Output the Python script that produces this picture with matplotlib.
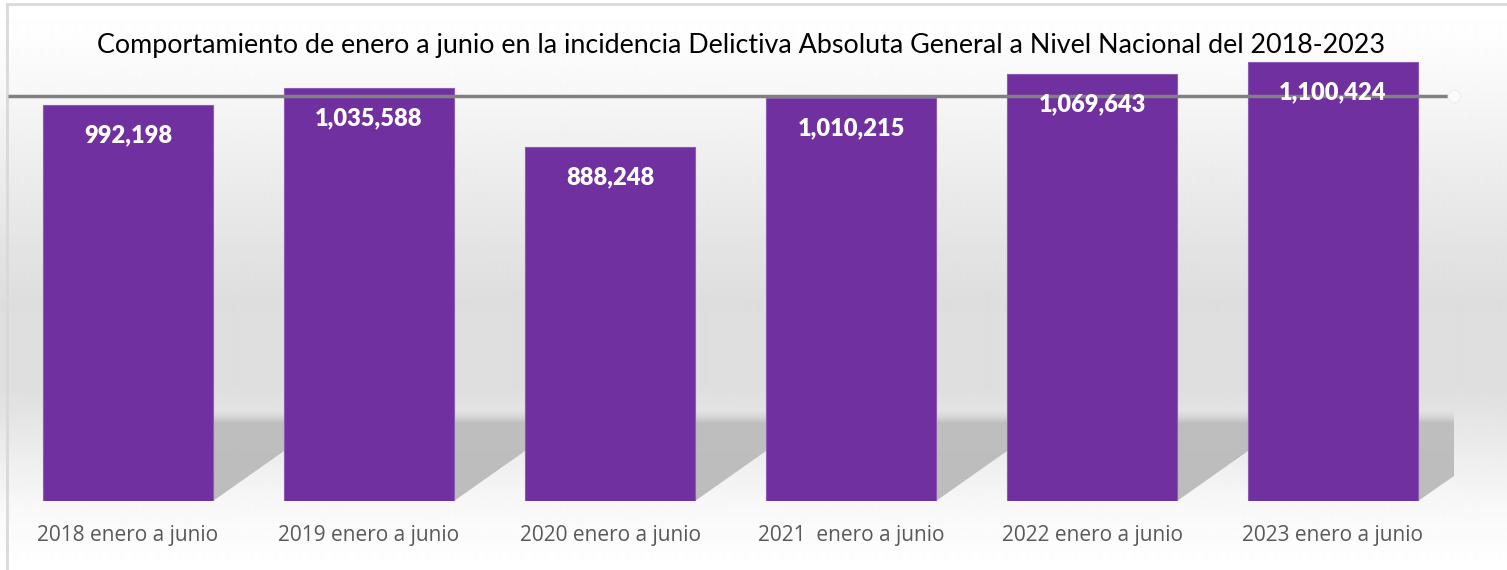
import numpy as np
import matplotlib.pyplot as plt
from matplotlib.patches import Polygon

categorias = ["2018 enero a junio", "2019 enero a junio", "2020 enero a junio",
              "2021  enero a junio", "2022 enero a junio", "2023 enero a junio"]
valores = [992198, 1035588, 888248, 1010215, 1069643, 1100424]
titulo = ("Comportamiento de enero a junio en la incidencia Delictiva Absoluta "
          "General a Nivel Nacional del 2018-2023")

morado = "#7030A0"
W, H = 1507, 570

fig = plt.figure(figsize=(W / 100, H / 100), dpi=100)

# fondo degradado
bg = fig.add_axes([0, 0, 1, 1], zorder=-5)
rows = np.arange(H)
gris = np.interp(rows, [0, 40, 100, 200, 300, 390, 450, 500, 530, 570],
                 [255, 253, 246, 233, 222, 223, 236, 247, 251, 255])
img = np.repeat((gris / 255)[:, None], 4, axis=1)
bg.imshow(img, cmap="gray", vmin=0, vmax=1, aspect="auto",
          extent=[0, W, H, 0], interpolation="bilinear")
bg.set_xlim(0, W)
bg.set_ylim(H, 0)
bg.axis("off")
bg.plot([7, 7], [4, H], color="#d9d9d9", lw=2)
bg.plot([7, W], [4, 4], color="#d9d9d9", lw=2)

ax = fig.add_axes([7.5 / W, 69 / H, 1446 / W, 0.805])
ax.patch.set_alpha(0)
x = np.arange(len(valores))
ancho = 0.705
ymax = 0.805 * H / 3.99e-4

# sombras del piso
hueco = 1 - ancho
sombra = np.interp(np.linspace(0, 1, 80), [0, 0.86, 0.93, 1.0], [188, 190, 214, 228]) / 255
sombra_img = np.repeat(sombra[:, None], 2, axis=1)
for xi in x:
    xr = xi + ancho / 2
    xd = min(xr + hueco, len(valores) - 0.5)
    alto = 228000
    poly = Polygon([(xr, 0), (xr, alto), (xd, alto), (xd, 125000 * (xd - xr) / hueco)],
                   closed=True, transform=ax.transData, facecolor="none", edgecolor="none")
    ax.add_patch(poly)
    im = ax.imshow(sombra_img, cmap="gray", vmin=0, vmax=1, aspect="auto",
                   extent=[xr, xd, 0, alto], origin="lower", zorder=1,
                   interpolation="bilinear")
    im.set_clip_path(poly)
ax.set_xlim(-0.5, len(valores) - 0.5)
ax.set_ylim(0, ymax)

barras = ax.bar(x, valores, width=ancho, color=morado, edgecolor="#8a5cb8",
                linewidth=0.8, zorder=2)

promedio = np.mean(valores)
ax.plot([-0.5, len(valores) - 0.5], [promedio, promedio], color="#808080",
        lw=2.5, zorder=3, solid_capstyle="butt")
ax.plot([len(valores) - 0.5], [promedio], marker="o", ms=9, color="#fbfbfb",
        mec="#f0f0f0", zorder=3, clip_on=False)

for xi, v in zip(x, valores):
    ax.annotate(f"{v:,}", (xi, v), xytext=(0, -22), textcoords="offset points",
                ha="center", va="center", color="white", fontsize=17,
                fontweight="heavy", family="Lato", zorder=5)

ax.set_xticks(x)
ax.set_xticklabels(categorias, family="Open Sans", fontsize=15, color="#595959")
ax.tick_params(axis="x", length=0, pad=17)
ax.set_yticks([])
for s in ax.spines.values():
    s.set_visible(False)

fig.text(0.492, 1 - 46 / H, titulo, ha="center", va="center", fontsize=19.4,
         family="Lato", color="black")

fig.savefig("out.png", dpi=100)
